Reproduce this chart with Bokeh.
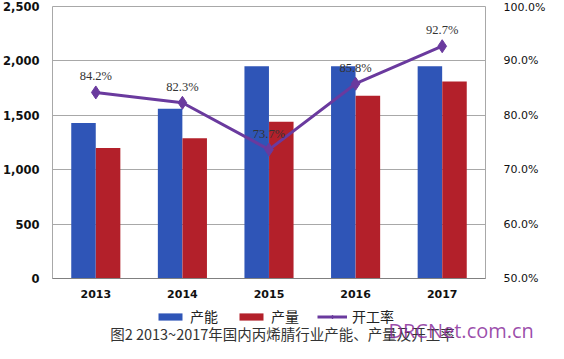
from bokeh.plotting import figure
from bokeh.layouts import column
from bokeh.models import (ColumnDataSource, FactorRange, Range1d, LinearAxis, NumeralTickFormatter,
                          Legend, LegendItem, LabelSet, Label, FixedTicker)
from bokeh.transform import dodge
from bokeh.embed import file_html
from bokeh.resources import INLINE

years = ["2013", "2014", "2015", "2016", "2017"]
capacity = [1430, 1560, 1950, 1950, 1950]
output = [1200, 1290, 1440, 1680, 1810]
rate = [0.842, 0.823, 0.737, 0.858, 0.927]
rate_labels = ["84.2%", "82.3%", "73.7%", "85.8%", "92.7%"]
left_ticks = [0, 500, 1000, 1500, 2000, 2500]
right_ticks = [0.5, 0.6, 0.7, 0.8, 0.9, 1.0]
legend_names = ["产能", "产量", "开工率"]
caption = "图2 2013~2017年国内丙烯腈行业产能、产量及开工率"
watermark = "DRCNet.com.cn"

BLUE = "#2F55B7"
RED = "#B3202A"
PURPLE = "#6A3A9E"
GRID = "#A8A8A8"

src = ColumnDataSource(dict(years=years, capacity=capacity, output=output,
                            rate=rate, rate_labels=rate_labels))

p = figure(width=548, height=300, x_range=FactorRange(*years, range_padding=0),
           y_range=Range1d(0, 2500), output_backend="svg", toolbar_location=None,
           min_border_left=47, min_border_right=61, min_border_top=6, min_border_bottom=22)
p.extra_y_ranges = {"rate": Range1d(0.5, 1.0)}
p.frame_align = False

p.outline_line_color = GRID
p.outline_line_width = 1
p.background_fill_color = "white"
p.border_fill_color = "white"

b1 = p.vbar(x=dodge("years", -0.142, range=p.x_range), top="capacity", width=0.283,
            source=src, fill_color=BLUE, line_color=None)
b2 = p.vbar(x=dodge("years", 0.142, range=p.x_range), top="output", width=0.283,
            source=src, fill_color=RED, line_color=None)
ln = p.line(x="years", y="rate", source=src, y_range_name="rate", line_color=PURPLE, line_width=3)
sc = p.scatter(x="years", y="rate", source=src, y_range_name="rate", marker="diamond",
               size=13, fill_color=PURPLE, line_color=PURPLE)

labels = LabelSet(x="years", y="rate", text="rate_labels", source=src, y_range_name="rate",
                  y_offset=9, text_align="center", text_font="DejaVu Sans",
                  text_font_size="12.5px", text_color="#333333")
p.add_layout(labels)

# left axis
ya = p.yaxis[0]
ya.ticker = FixedTicker(ticks=left_ticks)
ya.formatter = NumeralTickFormatter(format="0,0")
ya.axis_line_color = None
ya.major_tick_line_color = None
ya.minor_tick_line_color = None
ya.major_label_text_font = "DejaVu Sans"
ya.major_label_text_font_style = "bold"
ya.major_label_text_font_size = "11.5px"
ya.major_label_text_color = "#111111"
ya.major_label_standoff = 7

# right axis
ra = LinearAxis(y_range_name="rate", ticker=FixedTicker(ticks=right_ticks),
                formatter=NumeralTickFormatter(format="0.0%"))
ra.axis_line_color = None
ra.major_tick_line_color = None
ra.minor_tick_line_color = None
ra.major_label_text_font = "DejaVu Sans"
ra.major_label_text_font_size = "11px"
ra.major_label_text_color = "#111111"
ra.major_label_standoff = 12
p.add_layout(ra, "right")

# x axis
xa = p.xaxis[0]
xa.axis_line_color = "#808080"
xa.major_tick_line_color = None
xa.minor_tick_line_color = None
xa.major_label_text_font = "DejaVu Sans"
xa.major_label_text_font_style = "bold"
xa.major_label_text_font_size = "11px"
xa.major_label_text_color = "#111111"
xa.major_label_standoff = 5

p.xgrid.grid_line_color = None
p.ygrid.grid_line_color = GRID
p.ygrid.ticker = FixedTicker(ticks=left_ticks)

# bottom strip: legend + caption (hidden copies of the series give the legend swatches)
p2 = figure(width=548, height=43, x_range=FactorRange(*years), y_range=Range1d(-3, -2),
            output_backend="svg", toolbar_location=None, x_axis_type=None, y_axis_type=None,
            min_border=0)
p2.frame_align = False
p2.outline_line_color = None
p2.grid.grid_line_color = None
p2.border_fill_color = "white"
lb1 = p2.vbar(x="years", top="capacity", width=0.3, source=src, fill_color=BLUE, line_color=None)
lb2 = p2.vbar(x="years", top="output", width=0.3, source=src, fill_color=RED, line_color=None)
lln = p2.line(x="years", y="rate", source=src, line_color=PURPLE, line_width=3)
lsc = p2.scatter(x="years", y="rate", source=src, marker="diamond", size=9,
                 fill_color=PURPLE, line_color=PURPLE)
for r in (lb1, lb2, lln, lsc):
    r.visible = False

legend = Legend(items=[LegendItem(label=legend_names[0], renderers=[lb1]),
                       LegendItem(label=legend_names[1], renderers=[lb2]),
                       LegendItem(label=legend_names[2], renderers=[lln, lsc])],
                orientation="horizontal", location=(155, 17),
                label_text_font="Noto Sans CJK SC", label_text_font_size="14px",
                label_text_color="#222222", glyph_width=30, glyph_height=9,
                label_height=16, label_standoff=5, spacing=18, padding=0, margin=0,
                border_line_color=None, background_fill_alpha=0,
                inactive_fill_alpha=0)
p2.add_layout(legend, "center")

cap = Label(x=282, y=10, x_units="screen", y_units="screen", text=caption,
            text_align="center", text_baseline="middle", text_font="Noto Sans CJK SC",
            text_font_size="14.5px", text_color="#333333")
p2.add_layout(cap)

wm = Label(x=388, y=0, x_units="screen", y_units="screen", text=watermark,
           text_baseline="bottom", text_font="Open Sans", text_font_size="20px",
           text_color="#8A2E9C", text_alpha=0.85)
p2.add_layout(wm)

open("out.html", "w").write(file_html(column(p, p2, spacing=0), INLINE))
